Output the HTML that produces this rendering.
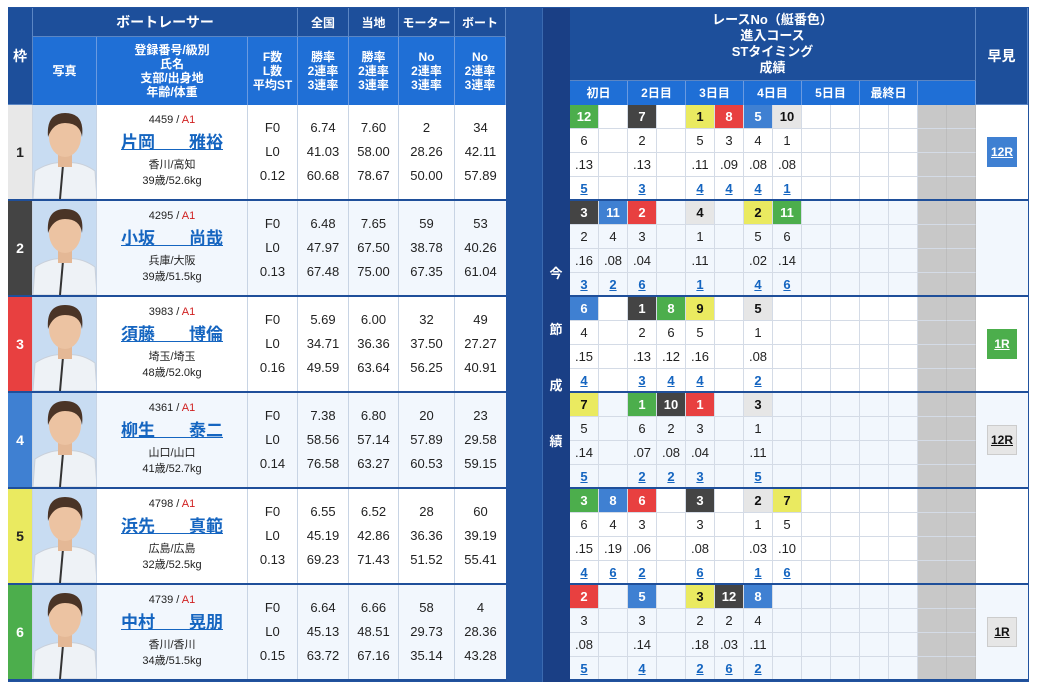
<!DOCTYPE html>
<html><head><meta charset="utf-8"><style>
*{box-sizing:border-box;margin:0;padding:0}
body{width:1040px;height:688px;background:#fff;font-family:"Liberation Sans","Noto Sans CJK JP",sans-serif;position:relative;overflow:hidden;color:#222}
.a{position:absolute}
#frame{left:8px;top:7px;width:1021px;height:675px;background:#22539f}
.hd{background:#1d4f9b;color:#fff;font-weight:bold;display:flex;align-items:center;justify-content:center;text-align:center;border-right:1px solid #5b86c4;border-bottom:1px solid #5b86c4}
.hb{background:#1f6fd6;color:#fff;font-weight:bold;display:flex;align-items:center;justify-content:center;text-align:center;border-right:1px solid #6a9ae0;font-size:12px;line-height:14px}
.row{position:absolute;left:8px;width:498px;height:96px;border-bottom:2px solid #1f4f9a;display:flex}
.row>div{height:94px;border-right:1px solid #c8d4e4;display:flex;flex-direction:column;justify-content:center;align-items:center;font-size:13px;line-height:24px;text-align:center}
.w{width:25px;font-weight:bold;font-size:14px!important}
.ph{width:64px;padding:0;overflow:hidden}
.nm{width:151px;line-height:normal!important}
.c50{width:50px}.c51{width:51px}.c56{width:56px}
.nm .n1{font-size:11px;margin-top:-2px}
.nm .n1 b{color:#d02020;font-weight:normal}
.nm .n2{font-size:17px;font-weight:bold;color:#1565c0;text-decoration:underline;margin:2px 0 4px}
.nm .n3{font-size:11px;line-height:16px}
.rs{position:absolute;left:570px;width:406px;height:96px;border-bottom:2px solid #1f4f9a}
.rr{display:flex;height:24px}
.rs .rr:last-child{height:22px}
.rr span{width:29px;height:100%;border-right:1px solid #d4dbe6;border-bottom:1px solid #d4dbe6;font-size:13px;display:flex;align-items:center;justify-content:center}
.rs .rr:last-child span{border-bottom:none}
.rr span.z{background:#c8c8c8;border-right:1px solid #bdbdbd}
.g{background:#4cae4c;color:#fff;font-weight:bold}
.k{background:#444;color:#fff;font-weight:bold}
.y{background:#eaea60;color:#111;font-weight:bold}
.r{background:#e84040;color:#fff;font-weight:bold}
.b{background:#3f80d2;color:#fff;font-weight:bold}
.e{background:#e6e6e6;color:#111;font-weight:bold}
.u{color:#1565c0;font-weight:bold;text-decoration:underline}
.hy{position:absolute;left:976px;width:52px;height:96px;border-bottom:2px solid #1f4f9a;display:flex;align-items:center;justify-content:center}
.btn{width:30px;height:30px;display:flex;align-items:center;justify-content:center;font-size:12px;font-weight:bold;text-decoration:underline}
</style></head><body>
<div id="frame" class="a"></div>
<div class="a hd" style="left:8px;top:8px;width:25px;height:97px;font-size:14px">枠</div>
<div class="a hd" style="left:33px;top:8px;width:265px;height:29px;font-size:14px">ボートレーサー</div>
<div class="a hd" style="left:298px;top:8px;width:51px;height:29px;font-size:12px">全国</div>
<div class="a hd" style="left:349px;top:8px;width:50px;height:29px;font-size:12px">当地</div>
<div class="a hd" style="left:399px;top:8px;width:56px;height:29px;font-size:12px">モーター</div>
<div class="a hd" style="left:455px;top:8px;width:51px;height:29px;font-size:12px">ボート</div>
<div class="a hb" style="left:33px;top:37px;width:64px;height:68px">写真</div>
<div class="a hb" style="left:97px;top:37px;width:151px;height:68px">登録番号/級別<br>氏名<br>支部/出身地<br>年齢/体重</div>
<div class="a hb" style="left:248px;top:37px;width:50px;height:68px">F数<br>L数<br>平均ST</div>
<div class="a hb" style="left:298px;top:37px;width:51px;height:68px">勝率<br>2連率<br>3連率</div>
<div class="a hb" style="left:349px;top:37px;width:50px;height:68px">勝率<br>2連率<br>3連率</div>
<div class="a hb" style="left:399px;top:37px;width:56px;height:68px">No<br>2連率<br>3連率</div>
<div class="a hb" style="left:455px;top:37px;width:51px;height:68px">No<br>2連率<br>3連率</div>
<div class="a" style="left:542px;top:8px;width:28px;height:674px;background:#1a3f85;border-left:1px solid #3b6ab0"></div>
<div class="a" style="left:542px;top:246px;width:28px;color:#fff;font-weight:bold;font-size:13px;text-align:center;line-height:56px">今<br>節<br>成<br>績</div>
<div class="a hd" style="left:570px;top:8px;width:406px;height:73px;font-size:13px;line-height:16px">レースNo（艇番色）<br>進入コース<br>STタイミング<br>成績</div>
<div class="a hd" style="left:976px;top:8px;width:52px;height:97px;font-size:14px">早見</div>
<div class="a" style="left:570px;top:81px;width:406px;height:24px;display:flex">
<div class="hb" style="width:58px;font-size:12px">初日</div><div class="hb" style="width:58px;font-size:12px">2日目</div><div class="hb" style="width:58px;font-size:12px">3日目</div><div class="hb" style="width:58px;font-size:12px">4日目</div><div class="hb" style="width:58px;font-size:12px">5日目</div><div class="hb" style="width:58px;font-size:12px">最終日</div><div class="hb" style="width:58px"></div></div>

<svg width="0" height="0" style="position:absolute"><defs>
<g id="face"><rect width="64" height="94" fill="#c8dcf2"/><path d="M0 94 L2 66 Q18 56 32 58 Q48 56 62 66 L64 94Z" fill="#eef2f6" stroke="#c9d0da"/><path d="M30 60 L27 94" stroke="#333" stroke-width="2"/><rect x="25" y="46" width="14" height="16" fill="#e4b896"/><ellipse cx="32" cy="32" rx="16" ry="20" fill="#ecc3a2"/><path d="M15 32 Q13 8 32 8 Q52 8 49 32 Q47 18 32 18 Q20 18 15 32Z" fill="#4a3426"/></g></defs></svg>

<div class="row" style="top:105px;background:#fff"><div class="w" style="background:#e8e8e8">1</div><div class="ph"><svg width="64" height="94"><use href="#face"/></svg></div><div class="nm"><div class="n1">4459 / <b>A1</b></div><div class="n2">片岡　　雅裕</div><div class="n3">香川/高知<br>39歳/52.6kg</div></div><div class="c50">F0<br>L0<br>0.12</div><div class="c51">6.74<br>41.03<br>60.68</div><div class="c50">7.60<br>58.00<br>78.67</div><div class="c56">2<br>28.26<br>50.00</div><div class="c51" style="border:none">34<br>42.11<br>57.89</div></div>
<div class="row" style="top:201px;background:#f2f7fd"><div class="w" style="background:#444;color:#fff">2</div><div class="ph"><svg width="64" height="94"><use href="#face"/></svg></div><div class="nm"><div class="n1">4295 / <b>A1</b></div><div class="n2">小坂　　尚哉</div><div class="n3">兵庫/大阪<br>39歳/51.5kg</div></div><div class="c50">F0<br>L0<br>0.13</div><div class="c51">6.48<br>47.97<br>67.48</div><div class="c50">7.65<br>67.50<br>75.00</div><div class="c56">59<br>38.78<br>67.35</div><div class="c51" style="border:none">53<br>40.26<br>61.04</div></div>
<div class="row" style="top:297px;background:#fff"><div class="w" style="background:#e84040;color:#fff">3</div><div class="ph"><svg width="64" height="94"><use href="#face"/></svg></div><div class="nm"><div class="n1">3983 / <b>A1</b></div><div class="n2">須藤　　博倫</div><div class="n3">埼玉/埼玉<br>48歳/52.0kg</div></div><div class="c50">F0<br>L0<br>0.16</div><div class="c51">5.69<br>34.71<br>49.59</div><div class="c50">6.00<br>36.36<br>63.64</div><div class="c56">32<br>37.50<br>56.25</div><div class="c51" style="border:none">49<br>27.27<br>40.91</div></div>
<div class="row" style="top:393px;background:#f2f7fd"><div class="w" style="background:#3f80d2;color:#fff">4</div><div class="ph"><svg width="64" height="94"><use href="#face"/></svg></div><div class="nm"><div class="n1">4361 / <b>A1</b></div><div class="n2">柳生　　泰二</div><div class="n3">山口/山口<br>41歳/52.7kg</div></div><div class="c50">F0<br>L0<br>0.14</div><div class="c51">7.38<br>58.56<br>76.58</div><div class="c50">6.80<br>57.14<br>63.27</div><div class="c56">20<br>57.89<br>60.53</div><div class="c51" style="border:none">23<br>29.58<br>59.15</div></div>
<div class="row" style="top:489px;background:#fff"><div class="w" style="background:#eaea60">5</div><div class="ph"><svg width="64" height="94"><use href="#face"/></svg></div><div class="nm"><div class="n1">4798 / <b>A1</b></div><div class="n2">浜先　　真範</div><div class="n3">広島/広島<br>32歳/52.5kg</div></div><div class="c50">F0<br>L0<br>0.13</div><div class="c51">6.55<br>45.19<br>69.23</div><div class="c50">6.52<br>42.86<br>71.43</div><div class="c56">28<br>36.36<br>51.52</div><div class="c51" style="border:none">60<br>39.19<br>55.41</div></div>
<div class="row" style="top:585px;background:#f2f7fd"><div class="w" style="background:#4cae4c;color:#fff">6</div><div class="ph"><svg width="64" height="94"><use href="#face"/></svg></div><div class="nm"><div class="n1">4739 / <b>A1</b></div><div class="n2">中村　　晃朋</div><div class="n3">香川/香川<br>34歳/51.5kg</div></div><div class="c50">F0<br>L0<br>0.15</div><div class="c51">6.64<br>45.13<br>63.72</div><div class="c50">6.66<br>48.51<br>67.16</div><div class="c56">58<br>29.73<br>35.14</div><div class="c51" style="border:none">4<br>28.36<br>43.28</div></div>

<div class="rs" style="top:105px;background:#fff">
<div class="rr"><span class="g">12</span><span></span><span class="k">7</span><span></span><span class="y">1</span><span class="r">8</span><span class="b">5</span><span class="e">10</span><span></span><span></span><span></span><span></span><span class="z"></span><span class="z"></span></div>
<div class="rr"><span>6</span><span></span><span>2</span><span></span><span>5</span><span>3</span><span>4</span><span>1</span><span></span><span></span><span></span><span></span><span class="z"></span><span class="z"></span></div>
<div class="rr"><span>.13</span><span></span><span>.13</span><span></span><span>.11</span><span>.09</span><span>.08</span><span>.08</span><span></span><span></span><span></span><span></span><span class="z"></span><span class="z"></span></div>
<div class="rr"><span class="u">5</span><span></span><span class="u">3</span><span></span><span class="u">4</span><span class="u">4</span><span class="u">4</span><span class="u">1</span><span></span><span></span><span></span><span></span><span class="z"></span><span class="z"></span></div>
</div>
<div class="rs" style="top:201px;background:#f2f7fd">
<div class="rr"><span class="k">3</span><span class="b">11</span><span class="r">2</span><span></span><span class="e">4</span><span></span><span class="y">2</span><span class="g">11</span><span></span><span></span><span></span><span></span><span class="z"></span><span class="z"></span></div>
<div class="rr"><span>2</span><span>4</span><span>3</span><span></span><span>1</span><span></span><span>5</span><span>6</span><span></span><span></span><span></span><span></span><span class="z"></span><span class="z"></span></div>
<div class="rr"><span>.16</span><span>.08</span><span>.04</span><span></span><span>.11</span><span></span><span>.02</span><span>.14</span><span></span><span></span><span></span><span></span><span class="z"></span><span class="z"></span></div>
<div class="rr"><span class="u">3</span><span class="u">2</span><span class="u">6</span><span></span><span class="u">1</span><span></span><span class="u">4</span><span class="u">6</span><span></span><span></span><span></span><span></span><span class="z"></span><span class="z"></span></div>
</div>
<div class="rs" style="top:297px;background:#fff">
<div class="rr"><span class="b">6</span><span></span><span class="k">1</span><span class="g">8</span><span class="y">9</span><span></span><span class="e">5</span><span></span><span></span><span></span><span></span><span></span><span class="z"></span><span class="z"></span></div>
<div class="rr"><span>4</span><span></span><span>2</span><span>6</span><span>5</span><span></span><span>1</span><span></span><span></span><span></span><span></span><span></span><span class="z"></span><span class="z"></span></div>
<div class="rr"><span>.15</span><span></span><span>.13</span><span>.12</span><span>.16</span><span></span><span>.08</span><span></span><span></span><span></span><span></span><span></span><span class="z"></span><span class="z"></span></div>
<div class="rr"><span class="u">4</span><span></span><span class="u">3</span><span class="u">4</span><span class="u">4</span><span></span><span class="u">2</span><span></span><span></span><span></span><span></span><span></span><span class="z"></span><span class="z"></span></div>
</div>
<div class="rs" style="top:393px;background:#f2f7fd">
<div class="rr"><span class="y">7</span><span></span><span class="g">1</span><span class="k">10</span><span class="r">1</span><span></span><span class="e">3</span><span></span><span></span><span></span><span></span><span></span><span class="z"></span><span class="z"></span></div>
<div class="rr"><span>5</span><span></span><span>6</span><span>2</span><span>3</span><span></span><span>1</span><span></span><span></span><span></span><span></span><span></span><span class="z"></span><span class="z"></span></div>
<div class="rr"><span>.14</span><span></span><span>.07</span><span>.08</span><span>.04</span><span></span><span>.11</span><span></span><span></span><span></span><span></span><span></span><span class="z"></span><span class="z"></span></div>
<div class="rr"><span class="u">5</span><span></span><span class="u">2</span><span class="u">2</span><span class="u">3</span><span></span><span class="u">5</span><span></span><span></span><span></span><span></span><span></span><span class="z"></span><span class="z"></span></div>
</div>
<div class="rs" style="top:489px;background:#fff">
<div class="rr"><span class="g">3</span><span class="b">8</span><span class="r">6</span><span></span><span class="k">3</span><span></span><span class="e">2</span><span class="y">7</span><span></span><span></span><span></span><span></span><span class="z"></span><span class="z"></span></div>
<div class="rr"><span>6</span><span>4</span><span>3</span><span></span><span>3</span><span></span><span>1</span><span>5</span><span></span><span></span><span></span><span></span><span class="z"></span><span class="z"></span></div>
<div class="rr"><span>.15</span><span>.19</span><span>.06</span><span></span><span>.08</span><span></span><span>.03</span><span>.10</span><span></span><span></span><span></span><span></span><span class="z"></span><span class="z"></span></div>
<div class="rr"><span class="u">4</span><span class="u">6</span><span class="u">2</span><span></span><span class="u">6</span><span></span><span class="u">1</span><span class="u">6</span><span></span><span></span><span></span><span></span><span class="z"></span><span class="z"></span></div>
</div>
<div class="rs" style="top:585px;background:#f2f7fd">
<div class="rr"><span class="r">2</span><span></span><span class="b">5</span><span></span><span class="y">3</span><span class="k">12</span><span class="b">8</span><span></span><span></span><span></span><span></span><span></span><span class="z"></span><span class="z"></span></div>
<div class="rr"><span>3</span><span></span><span>3</span><span></span><span>2</span><span>2</span><span>4</span><span></span><span></span><span></span><span></span><span></span><span class="z"></span><span class="z"></span></div>
<div class="rr"><span>.08</span><span></span><span>.14</span><span></span><span>.18</span><span>.03</span><span>.11</span><span></span><span></span><span></span><span></span><span></span><span class="z"></span><span class="z"></span></div>
<div class="rr"><span class="u">5</span><span></span><span class="u">4</span><span></span><span class="u">2</span><span class="u">6</span><span class="u">2</span><span></span><span></span><span></span><span></span><span></span><span class="z"></span><span class="z"></span></div>
</div>

<div class="hy" style="top:105px;background:#fff"><div class="btn" style="background:#3f80d2;color:#fff">12R</div></div>
<div class="hy" style="top:201px;background:#f2f7fd"></div>
<div class="hy" style="top:297px;background:#fff"><div class="btn" style="background:#4cae4c;color:#fff">1R</div></div>
<div class="hy" style="top:393px;background:#f2f7fd"><div class="btn" style="background:#e6e6e6;color:#111;border:1px solid #ccc">12R</div></div>
<div class="hy" style="top:489px;background:#fff"></div>
<div class="hy" style="top:585px;background:#f2f7fd"><div class="btn" style="background:#e6e6e6;color:#111;border:1px solid #ccc">1R</div></div>
</body></html>
